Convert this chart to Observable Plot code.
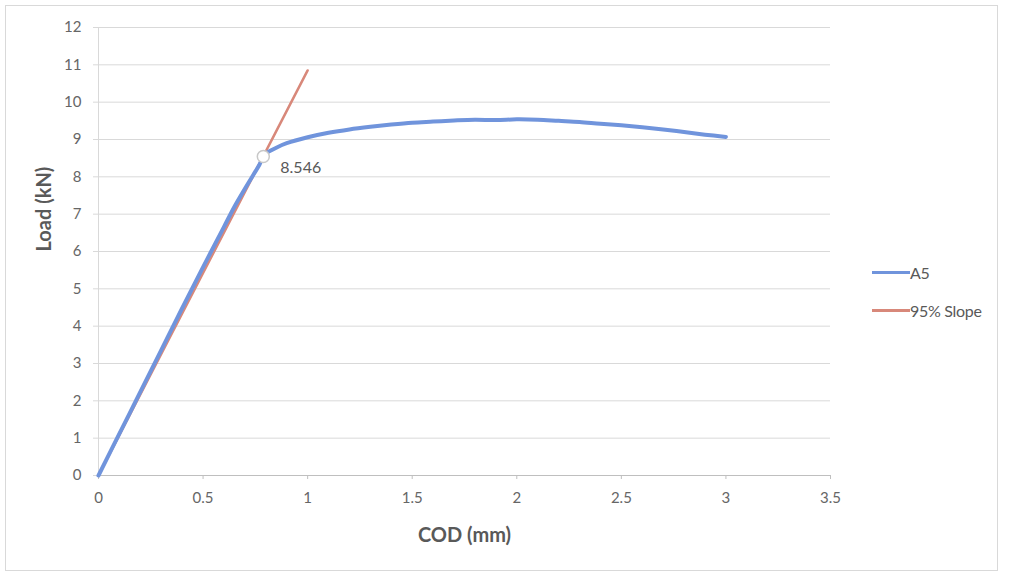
<!DOCTYPE html>
<html>
<head>
<meta charset="utf-8">
<script src="https://cdn.jsdelivr.net/npm/d3@7"></script>
<script src="https://cdn.jsdelivr.net/npm/@observablehq/plot@0.6"></script>
<style>
  html, body { margin: 0; padding: 0; background: #fff; }
  #wrap { position: relative; width: 1010px; height: 575px; font-family: Lato, "Open Sans", sans-serif; }
  #frame { position: absolute; left: 5px; top: 5px; width: 993px; height: 566px; border: 1px solid #d9d9d9; box-sizing: border-box; pointer-events: none; }
  #legend { position: absolute; left: 872px; top: 261px; font-size: 16px; color: #595959; letter-spacing: -0.3px; }
  .item { display: flex; align-items: center; height: 22px; margin-bottom: 16px; }
  .sw { width: 38px; height: 3px; margin-right: 0px; }
</style>
</head>
<body>
<div id="wrap">
  <div id="chart"></div>
  <div id="frame"></div>
  <div id="legend"></div>
</div>
<script>
// Series A5: COD (mm) vs Load (kN)
const a5Cod  = [0, 0.1, 0.2, 0.3, 0.4, 0.5, 0.6, 0.65, 0.7, 0.74, 0.77, 0.788, 0.81, 0.85, 0.9, 1.0, 1.1, 1.2, 1.3, 1.4, 1.5, 1.6, 1.7, 1.8, 1.9, 2.0, 2.1, 2.2, 2.3, 2.4, 2.5, 2.6, 2.7, 2.8, 2.9, 3.0];
const a5Load = [0, 1.12, 2.24, 3.36, 4.48, 5.58, 6.66, 7.2, 7.68, 8.05, 8.33, 8.546, 8.66, 8.78, 8.9, 9.06, 9.18, 9.27, 9.34, 9.4, 9.45, 9.48, 9.51, 9.53, 9.52, 9.54, 9.53, 9.5, 9.47, 9.42, 9.38, 9.33, 9.27, 9.2, 9.13, 9.07];
// 95% slope line
const slopeCod  = [0, 1.0];
const slopeLoad = [0, 10.85];
// intersection point
const markCod = [0.788];
const markLoad = [8.546];
const markLabel = ["8.546"];
// ticks
const xTicks = [0, 0.5, 1, 1.5, 2, 2.5, 3, 3.5];
const yTicks = d3.range(0, 13);
const seriesNames = ["A5", "95% Slope"];
const seriesColors = ["#7094dc", "#d8887a"];

const a5 = a5Cod.map((x, i) => ({x, y: a5Load[i]}));
const slope = slopeCod.map((x, i) => ({x, y: slopeLoad[i]}));
const mark = markCod.map((x, i) => ({x, y: markLoad[i], label: markLabel[i]}));

const chart = Plot.plot({
  width: 1010,
  height: 575,
  marginLeft: 98,
  marginRight: 180,
  marginTop: 27,
  marginBottom: 100,
  style: {fontFamily: "Lato, 'Open Sans', sans-serif", fontSize: "15px", color: "#595959", background: "transparent"},
  x: {domain: [0, 3.5], ticks: xTicks, label: null},
  y: {domain: [0, 12], ticks: yTicks, label: null},
  marks: [
    Plot.ruleY(yTicks, {y: d => d, stroke: "#d9d9d9", strokeWidth: 1}),
    Plot.ruleX([0], {stroke: "#d9d9d9"}),
    Plot.ruleY([0], {stroke: "#bfbfbf"}),
    Plot.axisY({ticks: yTicks, tickSize: 5, tickPadding: 12, stroke: "#d9d9d9", fill: "#666666", fontSize: 15, label: null}),
    Plot.axisX({ticks: xTicks, tickSize: 4, tickPadding: 13, stroke: "#bfbfbf", fill: "#666666", fontSize: 15, label: null, tickFormat: d => String(d)}),
    Plot.line(slope, {x: "x", y: "y", stroke: seriesColors[1], strokeWidth: 2.5}),
    Plot.line(a5, {x: "x", y: "y", stroke: seriesColors[0], strokeWidth: 4, curve: "catmull-rom"}),
    Plot.dot(mark, {x: "x", y: "y", r: 6, fill: "white", stroke: "#c8c8c8", strokeWidth: 1.5}),
    Plot.text(mark, {x: "x", y: "y", text: "label", dx: 17, dy: 11, textAnchor: "start", fill: "#595959", fontSize: 16}),
    Plot.text(["COD (mm)"], {frameAnchor: "bottom", dy: 66, fontWeight: "bold", fontSize: 20, fill: "#595959"}),
    Plot.text(["Load (kN)"], {frameAnchor: "left", dx: -54, rotate: -90, fontWeight: "bold", fontSize: 20, fill: "#595959"})
  ]
});
document.getElementById("chart").appendChild(chart);

const legend = document.getElementById("legend");
seriesNames.forEach((name, i) => {
  const item = document.createElement("div");
  item.className = "item";
  const sw = document.createElement("div");
  sw.className = "sw";
  sw.style.background = seriesColors[i];
  const t = document.createElement("span");
  t.textContent = name;
  item.appendChild(sw);
  item.appendChild(t);
  legend.appendChild(item);
});
</script>
</body>
</html>
